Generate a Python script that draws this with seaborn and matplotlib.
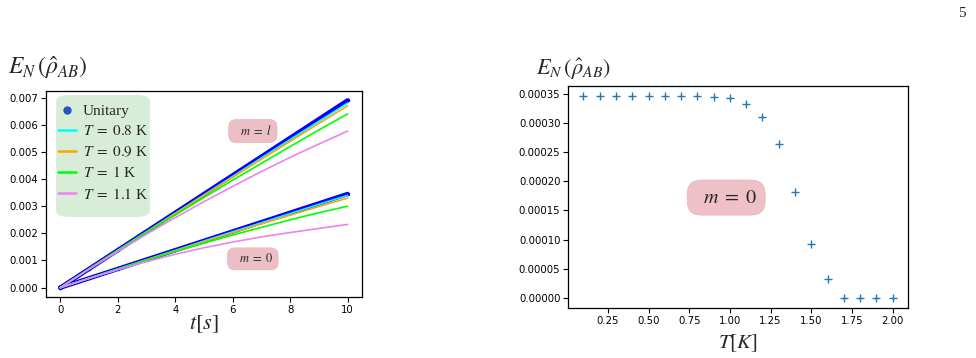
import numpy as np
import pandas as pd
import matplotlib
matplotlib.use("Agg")
import matplotlib.pyplot as plt
from matplotlib.lines import Line2D
from matplotlib.patches import FancyBboxPatch
from matplotlib.ticker import FormatStrFormatter
import seaborn as sns

# ---------------- data ----------------
t = [0, 1, 2, 3, 4, 5, 6, 7, 8, 9, 10]
# m = l branch
ml_unitary = [0, 0.00069, 0.00138, 0.00207, 0.00276, 0.00345, 0.00414, 0.00483, 0.00552, 0.00621, 0.00690]
ml_T08 = [0, 0.00069, 0.00138, 0.00206, 0.00274, 0.00342, 0.00410, 0.00478, 0.00546, 0.00613, 0.00680]
ml_T09 = [0, 0.00069, 0.00137, 0.00205, 0.00273, 0.00340, 0.00407, 0.00473, 0.00539, 0.00605, 0.00670]
ml_T10 = [0, 0.00069, 0.00136, 0.00203, 0.00268, 0.00332, 0.00396, 0.00458, 0.00520, 0.00581, 0.00640]
ml_T11 = [0, 0.00068, 0.00133, 0.00197, 0.00258, 0.00317, 0.00373, 0.00428, 0.00480, 0.00529, 0.00577]
# m = 0 branch
m0_unitary = [0, 0.000345, 0.00069, 0.001035, 0.00138, 0.001725, 0.00207, 0.002415, 0.00276, 0.003105, 0.00345]
m0_T08 = [0, 0.000345, 0.00069, 0.00103, 0.00137, 0.00172, 0.00206, 0.00239, 0.00273, 0.00307, 0.00340]
m0_T09 = [0, 0.000344, 0.00068, 0.00102, 0.00136, 0.00169, 0.00202, 0.00235, 0.00267, 0.00299, 0.00330]
m0_T10 = [0, 0.000342, 0.00068, 0.00101, 0.00133, 0.00164, 0.00194, 0.00222, 0.00250, 0.00276, 0.00300]
m0_T11 = [0, 0.00034, 0.00066, 0.00096, 0.00123, 0.00147, 0.00168, 0.00187, 0.00203, 0.00218, 0.00233]

temp_labels = [r"$T\;=\;0.8$ K", r"$T\;=\;0.9$ K", r"$T\;=\;1$ K", r"$T\;=\;1.1$ K"]
temp_colors = ["cyan", "orange", "lime", "violet"]

# right panel
T_vals = [0.1, 0.2, 0.3, 0.4, 0.5, 0.6, 0.7, 0.8, 0.9, 1.0,
          1.1, 1.2, 1.3, 1.4, 1.5, 1.6, 1.7, 1.8, 1.9, 2.0]
EN_vals = [0.000346, 0.000346, 0.000346, 0.000346, 0.000346, 0.000346, 0.000346, 0.000346, 0.000345, 0.000342,
           0.000333, 0.000311, 0.000264, 0.000182, 0.000092, 0.000032, 0.0, 0.0, 0.0, 0.0]

# ---------------- style ----------------
sns.set_theme(style="ticks")
plt.rcParams["font.family"] = ["DejaVu Sans"]
plt.rcParams["mathtext.fontset"] = "stix"
plt.rcParams["axes.edgecolor"] = "black"
plt.rcParams["axes.linewidth"] = 0.9
plt.rcParams["xtick.color"] = "black"
plt.rcParams["ytick.color"] = "black"

fig = plt.figure(figsize=(9.76, 3.58), dpi=100)
ax1 = fig.add_axes([0.0471, 0.1704, 0.3238, 0.5754])
ax2 = fig.add_axes([0.582, 0.1397, 0.3484, 0.620])

serif = ["Liberation Serif", "DejaVu Serif"]

# ---------------- left panel ----------------
for series in (ml_unitary, m0_unitary):
    sns.lineplot(x=t, y=series, ax=ax1, color="blue", lw=3.2, marker="o",
                 markersize=2.5, markeredgewidth=0, legend=False, zorder=2)

for branch in ((ml_T08, ml_T09, ml_T10, ml_T11), (m0_T08, m0_T09, m0_T10, m0_T11)):
    for vals, col in zip(branch, temp_colors):
        sns.lineplot(x=t, y=vals, ax=ax1, color=col, lw=1.2, legend=False, zorder=3)

ax1.set_xticks([0, 2, 4, 6, 8, 10])
ax1.set_yticks([0, 0.001, 0.002, 0.003, 0.004, 0.005, 0.006, 0.007])
ax1.yaxis.set_major_formatter(FormatStrFormatter("%.3f"))
ax1.tick_params(labelsize=7.3, length=3.5, width=0.8, pad=2)
ax1.set_xlabel(r"$t[s]$", fontsize=16, labelpad=-1)
ax1.set_ylabel("")

# legend background
bg = FancyBboxPatch((0.032, 0.388), 0.297, 0.593, transform=ax1.transAxes,
                    boxstyle="round,pad=0,rounding_size=0.045", fc="#d6edd6",
                    ec="none", alpha=0.95, zorder=4, mutation_aspect=206/316)
ax1.add_patch(bg)

handles = [Line2D([], [], marker="o", color="#2a52be", linestyle="", markersize=5)]
handles += [Line2D([], [], color=c, lw=1.8) for c in temp_colors]
labels = ["Unitary"] + temp_labels
leg = ax1.legend(handles, labels, loc="upper left", bbox_to_anchor=(0.038, 0.935),
                 frameon=False, labelspacing=0.41, handlelength=1.18, handletextpad=0.45,
                 borderpad=0.0, borderaxespad=0.0, prop={"family": serif, "size": 11})
leg.set_zorder(5)

box_kw = dict(boxstyle="round,pad=0.36,rounding_size=0.6", fc="#ecbec6", ec="#e8b4bd", lw=0.5)
ax1.text(6.7, 0.00577, r"$\;\;\;m\;=\;l\;\;\;$", fontsize=9, ha="center", va="center", bbox=box_kw)
ax1.text(6.7, 0.00106, r"$\;\;\;m\;=\;0\;\;\;$", fontsize=9, ha="center", va="center", bbox=box_kw)

fig.text(0.008, 0.775, r"$E_N\,(\hat{\rho}_{AB})$", fontsize=17, ha="left", va="bottom")

# ---------------- right panel ----------------
sns.scatterplot(x=T_vals, y=EN_vals, ax=ax2, marker="+", s=40, color="#1f77b4",
                linewidth=1.0, legend=False)
ax2.set_yticks([0, 0.00005, 0.0001, 0.00015, 0.0002, 0.00025, 0.0003, 0.00035])
ax2.yaxis.set_major_formatter(FormatStrFormatter("%.5f"))
ax2.set_xticks([0.25, 0.5, 0.75, 1.0, 1.25, 1.5, 1.75, 2.0])
ax2.xaxis.set_major_formatter(FormatStrFormatter("%.2f"))
ax2.tick_params(labelsize=7.3, length=3.5, width=0.8, pad=2)
ax2.set_xlabel(r"$T[K]$", fontsize=15, labelpad=5)
ax2.set_ylabel("")

box_kw2 = dict(boxstyle="round,pad=0.4,rounding_size=0.7", fc="#efc0c8", ec="#e8b4bd", lw=0.5)
ax2.text(0.977, 0.000172, r"$\;\;m\;=\;0\;\;$", fontsize=14.5, ha="center", va="center", bbox=box_kw2)

fig.text(0.549, 0.77, r"$E_N\,(\hat{\rho}_{AB})$", fontsize=16, ha="left", va="bottom")

fig.text(0.989, 0.962, "5", fontsize=11, family=serif, ha="right", va="center")

fig.savefig("out.png", dpi=100)
